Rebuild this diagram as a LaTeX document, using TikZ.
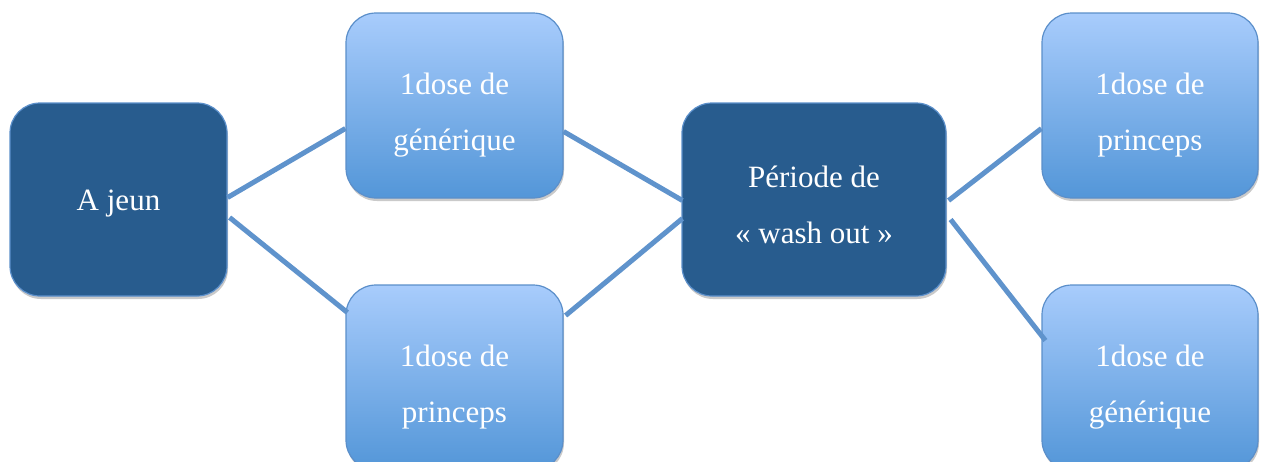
\documentclass[tikz,border=0pt]{standalone}
\usepackage{fontspec}
\setmainfont{Liberation Serif}
\usetikzlibrary{calc,shadows}
\definecolor{darkbox}{HTML}{285C8E}
\definecolor{boxedge}{HTML}{5B8FCA}
\definecolor{lighttop}{HTML}{A8CCFC}
\definecolor{lightbot}{HTML}{5396D8}
\definecolor{linkcol}{HTML}{5F93CC}
\tikzset{
  box/.style={rounded corners=30pt, draw=boxedge, line width=1.2pt,
    drop shadow={shadow xshift=1pt, shadow yshift=-3pt, opacity=0.35, fill=black!60}},
  darkstep/.style={box, fill=darkbox},
  lightstep/.style={box, top color=lighttop, bottom color=lightbot},
  boxtext/.style={align=center, text=white, font=\fontsize{31}{56}\selectfont},
  link/.style={draw=linkcol, line width=5pt}
}
\begin{document}
\begin{tikzpicture}[x=1pt,y=-1pt]
\useasboundingbox (0,0) rectangle (1262,461);
\node[darkstep, minimum width=217pt, minimum height=193pt] (aj) at (118.5,199.5) {};
\node[lightstep, minimum width=217pt, minimum height=185pt] (g1) at (454.5,105.5) {};
\node[lightstep, minimum width=217pt, minimum height=185pt] (p1) at (454.5,377.5) {};
\node[darkstep, minimum width=264pt, minimum height=193pt] (wo) at (814,199.5) {};
\node[lightstep, minimum width=216pt, minimum height=185pt] (p2) at (1150,105.5) {};
\node[lightstep, minimum width=216pt, minimum height=185pt] (g2) at (1150,377.5) {};
\node[boxtext] (ajt) at ($(aj)+(0,4)$) {A jeun};
\node[boxtext] (g1t) at ($(g1)+(0,10)$) {1dose de\\générique};
\node[boxtext] (p1t) at ($(p1)+(0,10)$) {1dose de\\princeps};
\node[boxtext] (wot) at ($(wo)+(0,5)$) {Période de\\« wash out »};
\node[boxtext] (p2t) at ($(p2)+(0,10)$) {1dose de\\princeps};
\node[boxtext] (g2t) at ($(g2)+(0,10)$) {1dose de\\générique};
\path[link] ($(aj.east)+(0,-2)$) -- ($(g1.west)+(0,23)$);
\path[link] ($(aj.east)+(2,18)$) -- ($(p1.west)+(2,-65)$);
\path[link] ($(g1.east)+(0,26)$) -- ($(wo.west)+(1,1)$);
\path[link] ($(p1.east)+(2,-62)$) -- ($(wo.west)+(1,19)$);
\path[link] ($(wo.east)+(2,1)$) -- ($(p2.west)+(0,23)$);
\path[link] ($(wo.east)+(4,20)$) -- ($(g2.west)+(4,-37)$);
\end{tikzpicture}
\end{document}
